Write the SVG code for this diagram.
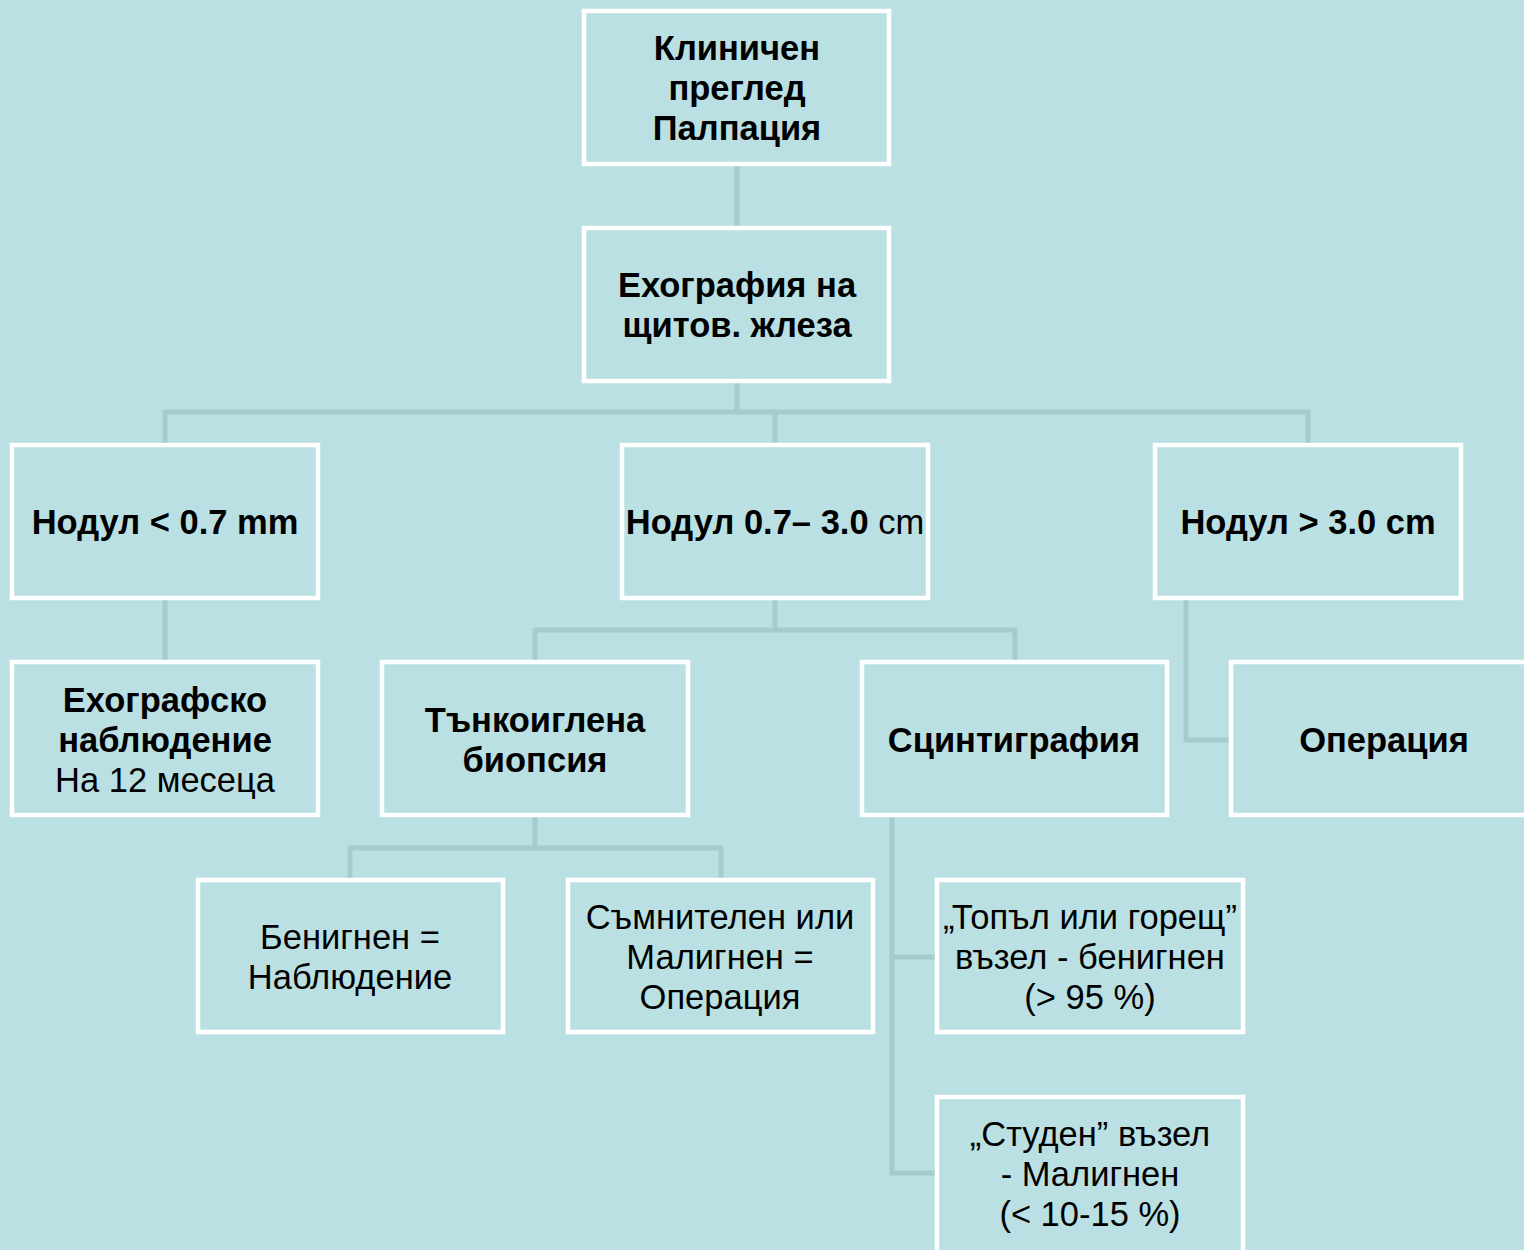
<svg xmlns="http://www.w3.org/2000/svg" width="1524" height="1250" viewBox="0 0 1524 1250">
<style>
.bg{fill:#BAE0E3}
.box{fill:#BAE0E3;stroke:#FFFFFF;stroke-width:4.5}
.c{fill:none;stroke:#A6CBCE;stroke-width:5;stroke-linejoin:round}
text{font-family:"Liberation Sans",Arial,sans-serif;font-size:34.5px;fill:#000;text-anchor:middle}
.b{font-weight:bold}
.r{font-weight:normal}
</style>
<rect class="bg" x="0" y="0" width="1524" height="1250"/>
<g id="connectors">
<path class="c" d="M737,166 V227"/>
<path class="c" d="M737,382 V412 M165,444 V412 H1308 V444 M775,412 V444"/>
<path class="c" d="M165,600 V660"/>
<path class="c" d="M775,600 V630 M535,660 V630 H1015 V660"/>
<path class="c" d="M1186,600 V740 H1231"/>
<path class="c" d="M535,817 V848 M350,878 V848 H721 V878"/>
<path class="c" d="M892,817 V1173 H937 M892,957 H937"/>
</g>
<g id="n-klinichen">
<rect class="box" x="584" y="11" width="305" height="153"/>
<text class="b" x="737" y="60">Клиничен</text>
<text class="b" x="737" y="100">преглед</text>
<text class="b" x="737" y="140">Палпация</text>
</g>
<g id="n-exo">
<rect class="box" x="584" y="228" width="305" height="153"/>
<text class="b" x="737" y="297">Ехография на</text>
<text class="b" x="737" y="337">щитов. жлеза</text>
</g>
<g id="n-nodul1">
<rect class="box" x="12" y="445" width="306" height="153"/>
<text class="b" x="165" y="534">Нодул &lt; 0.7 mm</text>
</g>
<g id="n-nodul2">
<rect class="box" x="622" y="445" width="306" height="153"/>
<text x="775" y="534"><tspan class="b">Нодул 0.7– 3.0 </tspan><tspan class="r">cm</tspan></text>
</g>
<g id="n-nodul3">
<rect class="box" x="1155" y="445" width="306" height="153"/>
<text class="b" x="1308" y="534">Нодул &gt; 3.0 cm</text>
</g>
<g id="n-exonabl">
<rect class="box" x="12" y="662" width="306" height="153"/>
<text class="b" x="165" y="712">Ехографско</text>
<text class="b" x="165" y="752">наблюдение</text>
<text class="r" x="165" y="792">На 12 месеца</text>
</g>
<g id="n-biopsia">
<rect class="box" x="382" y="662" width="306" height="153"/>
<text class="b" x="535" y="732">Тънкоиглена</text>
<text class="b" x="535" y="772">биопсия</text>
</g>
<g id="n-scint">
<rect class="box" x="862" y="662" width="305" height="153"/>
<text class="b" x="1014" y="752">Сцинтиграфия</text>
</g>
<g id="n-operacia">
<rect class="box" x="1231" y="662" width="310" height="153"/>
<text class="b" x="1384" y="752">Операция</text>
</g>
<g id="n-benign">
<rect class="box" x="198" y="880" width="305" height="152"/>
<text class="r" x="350" y="949">Бенигнен =</text>
<text class="r" x="350" y="989">Наблюдение</text>
</g>
<g id="n-susp">
<rect class="box" x="568" y="880" width="305" height="152"/>
<text class="r" x="720" y="929">Съмнителен или</text>
<text class="r" x="720" y="969">Малигнен =</text>
<text class="r" x="720" y="1009">Операция</text>
</g>
<g id="n-hot">
<rect class="box" x="937" y="880" width="306" height="152"/>
<text class="r" x="1090" y="929">„Топъл или горещ”</text>
<text class="r" x="1090" y="969">възел - бенигнен</text>
<text class="r" x="1090" y="1009">(&gt; 95 %)</text>
</g>
<g id="n-cold">
<rect class="box" x="937" y="1097" width="306" height="170"/>
<text class="r" x="1090" y="1146">„Студен” възел</text>
<text class="r" x="1090" y="1186">- Малигнен</text>
<text class="r" x="1090" y="1226">(&lt; 10-15 %)</text>
</g>
</svg>
